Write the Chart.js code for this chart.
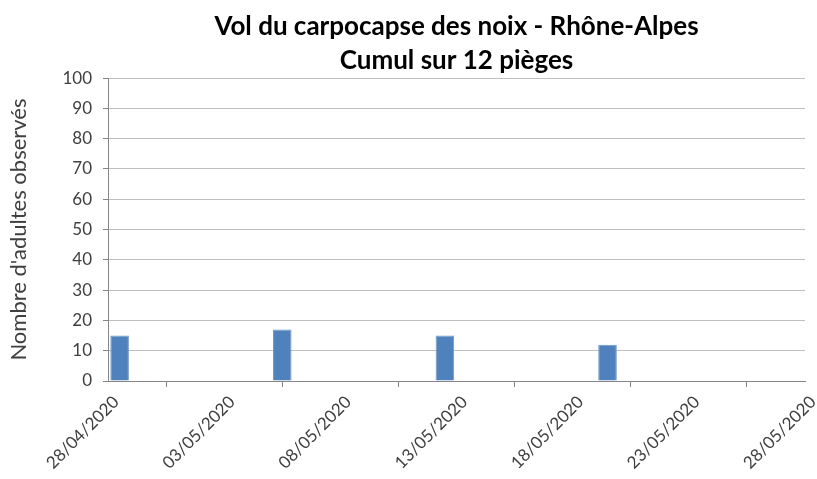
<!DOCTYPE html>
<html>
<head>
<meta charset="utf-8">
<script src="https://cdn.jsdelivr.net/npm/chart.js@4/dist/chart.umd.min.js"></script>
<style>
html,body{margin:0;padding:0;background:#fff;}
#wrap{width:817px;height:479px;position:relative;}
</style>
</head>
<body>
<div id="wrap"><canvas id="c" width="817" height="479"></canvas></div>
<script>
const titleLines = ["Vol du carpocapse des noix - Rhône-Alpes", "Cumul sur 12 pièges"];
const yAxisTitle = "Nombre d'adultes observés";
const categories = [
  "28/04/2020","29/04/2020","30/04/2020","01/05/2020","02/05/2020",
  "03/05/2020","04/05/2020","05/05/2020","06/05/2020","07/05/2020",
  "08/05/2020","09/05/2020","10/05/2020","11/05/2020","12/05/2020",
  "13/05/2020","14/05/2020","15/05/2020","16/05/2020","17/05/2020",
  "18/05/2020","19/05/2020","20/05/2020","21/05/2020","22/05/2020",
  "23/05/2020","24/05/2020","25/05/2020","26/05/2020","27/05/2020"
];
const adults = [
  15, null, null, null, null,
  null, null, 17, null, null,
  null, null, null, null, 15,
  null, null, null, null, null,
  null, 12, null, null, null,
  null, null, null, null, null
];
const xTickLabels = ["28/04/2020","03/05/2020","08/05/2020","13/05/2020","18/05/2020","23/05/2020","28/05/2020"];
const yTicks = [0,10,20,30,40,50,60,70,80,90,100];

const FONT = "Lato, 'Open Sans', sans-serif";
const TXT = '#404040';
const AXIS = '#868686';
const GRID = '#BFBFBF';

new Chart(document.getElementById('c'), {
  type: 'bar',
  data: {
    labels: categories,
    datasets: [{
      data: adults,
      backgroundColor: '#4F81BD',
      borderColor: '#6F97C8',
      borderWidth: 1,
      barPercentage: 0.8,
      categoryPercentage: 1.0,
      xAxisID: 'x'
    }]
  },
  options: {
    responsive: false,
    animation: false,
    layout: { padding: { left: 0, right: 12, top: 0, bottom: 0 } },
    plugins: {
      legend: { display: false },
      tooltip: { enabled: false },
      title: {
        display: true,
        fullSize: false,
        text: titleLines,
        color: '#000',
        font: { family: FONT, size: 26, weight: 'bold', lineHeight: 1.31 },
        padding: { top: 10, bottom: 0 }
      }
    },
    scales: {
      x: {
        type: 'category',
        display: false,
        offset: true
      },
      xd: {
        type: 'linear',
        position: 'bottom',
        offset: false,
        min: 0,
        max: 30,
        afterBuildTicks: (s) => { s.ticks = xTickLabels.map((_, i) => ({ value: i * 5 })); },
        afterFit: (s) => { s.height = 98; s.paddingRight = 0; s.paddingLeft = 0; },
        ticks: {
          autoSkip: false,
          maxRotation: 45,
          minRotation: 45,
          color: TXT,
          font: { family: FONT, size: 17 },
          padding: 5,
          labelOffset: 8,
          callback: (v) => xTickLabels[Math.round(v / 5)]
        },
        grid: { drawOnChartArea: false, color: AXIS, tickLength: 6, lineWidth: 1 },
        border: { color: AXIS, width: 1 }
      },
      y: {
        min: 0,
        max: 100,
        afterBuildTicks: (s) => { s.ticks = yTicks.map(v => ({ value: v })); },
        afterFit: (s) => { s.width = 108; },
        ticks: {
          color: TXT,
          font: { family: FONT, size: 17 },
          padding: 11
        },
        grid: { color: GRID, tickColor: AXIS, tickLength: 5, lineWidth: 1 },
        border: { color: AXIS, width: 1 },
        title: {
          display: true,
          text: yAxisTitle,
          color: TXT,
          font: { family: FONT, size: 22 },
          padding: { top: 6, bottom: 0 }
        }
      }
    }
  }
});
</script>
</body>
</html>
